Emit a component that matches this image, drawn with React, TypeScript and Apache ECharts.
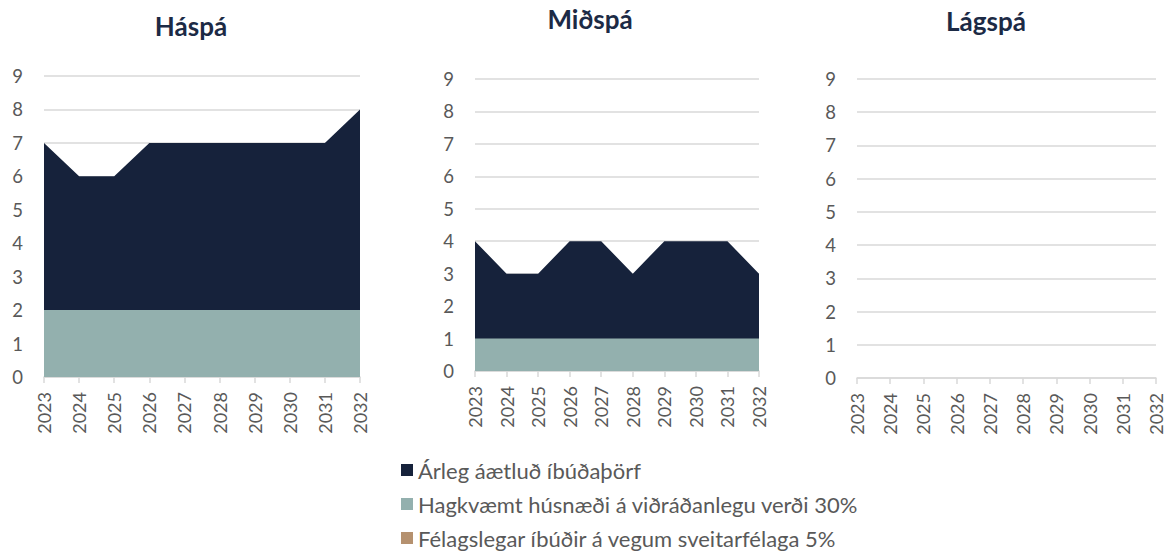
import React, { useEffect, useRef } from "react";
import * as echarts from "echarts";

const years = ["2023", "2024", "2025", "2026", "2027", "2028", "2029", "2030", "2031", "2032"];
const panelTitles = ["Háspá", "Miðspá", "Lágspá"];
const seriesNames = [
  "Árleg áætluð íbúðaþörf",
  "Hagkvæmt húsnæði á viðráðanlegu verði 30%",
  "Félagslegar íbúðir á vegum sveitarfélaga 5%",
];
const seriesColors = ["#16223b", "#93b0ae", "#b5916f"];

// Háspá
const hasArleg = [7, 6, 6, 7, 7, 7, 7, 7, 7, 8];
const hasHagkvaemt = [2, 2, 2, 2, 2, 2, 2, 2, 2, 2];
const hasFelags = [0, 0, 0, 0, 0, 0, 0, 0, 0, 0];
// Miðspá
const midArleg = [4, 3, 3, 4, 4, 3, 4, 4, 4, 3];
const midHagkvaemt = [1, 1, 1, 1, 1, 1, 1, 1, 1, 1];
const midFelags = [0, 0, 0, 0, 0, 0, 0, 0, 0, 0];
// Lágspá
const lagArleg = [0, 0, 0, 0, 0, 0, 0, 0, 0, 0];
const lagHagkvaemt = [0, 0, 0, 0, 0, 0, 0, 0, 0, 0];
const lagFelags = [0, 0, 0, 0, 0, 0, 0, 0, 0, 0];

const panelData = [
  [hasArleg, hasHagkvaemt, hasFelags],
  [midArleg, midHagkvaemt, midFelags],
  [lagArleg, lagHagkvaemt, lagFelags],
];

const FONT = "Lato, 'Open Sans', sans-serif";
const LABEL_COLOR = "#595959";
const GRID_COLOR = "#d9d9d9";

const grids = [
  { left: 44, top: 76, width: 316, height: 301 },
  { left: 475, top: 79, width: 284, height: 292 },
  { left: 857, top: 79, width: 299, height: 299 },
];
const titlePos = [
  { x: 191, y: 26 },
  { x: 590, y: 19 },
  { x: 986, y: 21 },
];

export default function App() {
  const ref = useRef<HTMLDivElement>(null);
  useEffect(() => {
    if (!ref.current) return;
    const chart = echarts.init(ref.current, null, { renderer: "svg" });
    const xAxis = grids.map((_, i) => ({
      type: "category",
      gridIndex: i,
      data: years,
      boundaryGap: false,
      axisLine: { show: true, lineStyle: { color: GRID_COLOR, width: 1.5 } },
      axisTick: { show: true, length: 6, lineStyle: { color: GRID_COLOR, width: 1.5 } },
      axisLabel: {
        rotate: 90,
        margin: 15,
        color: LABEL_COLOR,
        fontSize: 18,
        fontFamily: FONT,
        interval: 0,
      },
      splitLine: { show: false },
    }));
    const yAxis = grids.map((_, i) => ({
      type: "value",
      gridIndex: i,
      min: 0,
      max: 9,
      interval: 1,
      axisLine: { show: false },
      axisTick: { show: false },
      axisLabel: { margin: 21, color: LABEL_COLOR, fontSize: 18.5, fontFamily: FONT },
      splitLine: { show: true, lineStyle: { color: GRID_COLOR, width: 1.5 } },
    }));
    const series: any[] = [];
    panelData.forEach((arrs, p) => {
      arrs.forEach((vals, s) => {
        series.push({
          type: "line",
          name: seriesNames[s],
          xAxisIndex: p,
          yAxisIndex: p,
          data: vals,
          showSymbol: false,
          symbol: "none",
          color: seriesColors[s],
          lineStyle: { width: 0, color: seriesColors[s] },
          areaStyle: { color: seriesColors[s], opacity: 1 },
          z: 2 + s,
        });
      });
    });
    chart.setOption({
      animation: false,
      backgroundColor: "#ffffff",
      grid: grids.map((g) => ({ ...g, containLabel: false })),
      xAxis,
      yAxis,
      series,
      legend: {
        data: seriesNames.map((n, i) => ({ name: n, itemStyle: { color: seriesColors[i] } })),
        orient: "vertical",
        left: 401,
        top: 459,
        height: 200,
        itemWidth: 12,
        itemHeight: 12,
        itemGap: 12,
        icon: "rect",
        padding: 0,
        textStyle: { color: LABEL_COLOR, fontSize: 22, fontFamily: FONT, lineHeight: 22 },
        selectedMode: false,
      },
      graphic: panelTitles.map((t, i) => ({
        type: "text",
        x: titlePos[i].x,
        y: titlePos[i].y,
        style: {
          text: t,
          fill: "#1c2a45",
          font: `bold 26px ${FONT}`,
          textAlign: "center",
          textVerticalAlign: "middle",
        },
      })),
    });
    return () => chart.dispose();
  }, []);
  return (
    <div
      ref={ref}
      style={{ position: "absolute", left: 0, top: 0, width: 1168, height: 555 }}
    />
  );
}
